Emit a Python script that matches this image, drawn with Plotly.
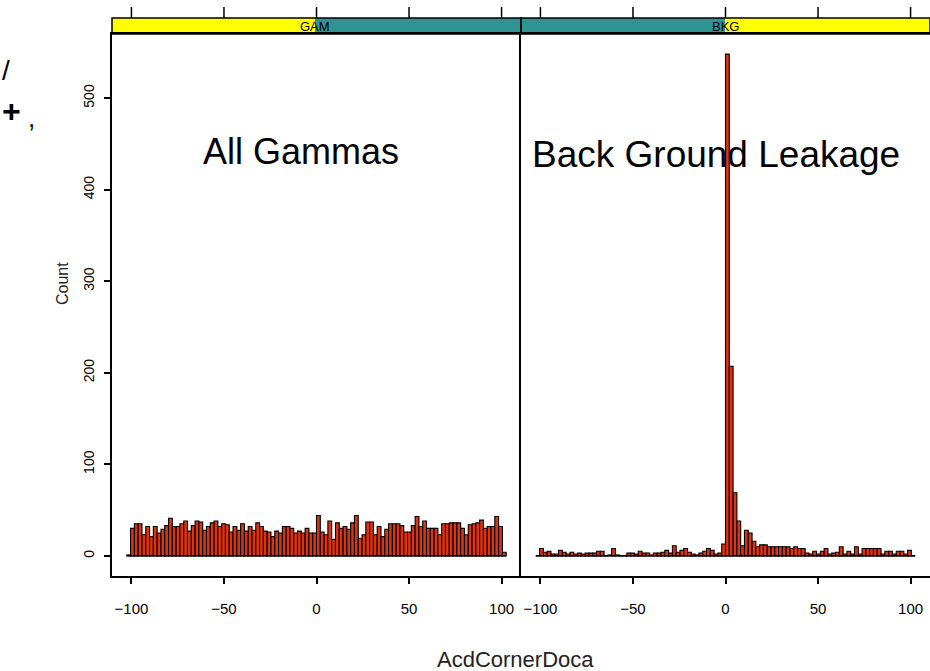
import numpy as np
import plotly.graph_objects as go

# ---------------- data ----------------
bin_start = -102.5
bin_width = 2.05

gam_counts = [1, 30, 35, 35, 23, 32, 21, 32, 25, 29,
              33, 41, 32, 32, 35, 38, 27, 33, 38, 37,
              28, 32, 36, 38, 32, 35, 34, 26, 32, 28,
              35, 27, 32, 28, 36, 32, 27, 26, 21, 27,
              25, 32, 32, 30, 25, 27, 25, 30, 25, 25,
              44, 26, 23, 38, 18, 36, 30, 32, 29, 36,
              44, 19, 23, 37, 37, 23, 32, 21, 29, 35,
              35, 35, 33, 26, 26, 33, 43, 32, 38, 30,
              30, 30, 23, 35, 35, 36, 36, 36, 30, 23,
              34, 35, 36, 39, 30, 32, 32, 43, 32, 4]

bkg_counts = [0, 8, 4, 5, 2, 2, 6, 4, 2, 4,
              2, 3, 2, 3, 3, 3, 5, 5, 0, 1,
              8, 1, 0, 0, 3, 3, 2, 5, 3, 3,
              1, 3, 3, 4, 6, 3, 11, 4, 6, 8,
              4, 2, 1, 3, 5, 8, 6, 2, 3, 13,
              548, 207, 69, 38, 11, 28, 25, 16, 10, 12,
              12, 10, 10, 10, 10, 10, 10, 8, 10, 8,
              8, 3, 2, 5, 2, 5, 8, 2, 3, 4,
              10, 2, 5, 2, 10, 2, 8, 8, 8, 8,
              8, 2, 5, 5, 2, 5, 5, 2, 6, 0]

x_ticks = [-100, -50, 0, 50, 100]
y_ticks = [0, 100, 200, 300, 400, 500]
panel_names = ["GAM", "BKG"]
panel_notes = ["All Gammas", "Back Ground Leakage"]
x_title = "AcdCornerDoca"
y_title = "Count"

# ---------------- layout helpers ----------------
W, H = 930, 671


def px(x):
    return x / W


def py(y):
    return 1 - y / H


n_bins = len(gam_counts)
centers = bin_start + bin_width * (np.arange(n_bins) + 0.5)
bin_end = bin_start + bin_width * n_bins

bar_fill = "#dd3311"
teal = "#2f9393"
yellow = "#ffff00"
FONT = "Liberation Sans, Arial, sans-serif"
LW = 1.5

fig = go.Figure()
fig.add_trace(go.Bar(x=centers, y=gam_counts, width=bin_width,
                     marker=dict(color=bar_fill, line=dict(color="black", width=1.1)),
                     xaxis="x", yaxis="y", showlegend=False))
fig.add_trace(go.Bar(x=centers, y=bkg_counts, width=bin_width,
                     marker=dict(color=bar_fill, line=dict(color="black", width=1.1)),
                     xaxis="x2", yaxis="y2", showlegend=False))

xr = [-110.5, 110.5]
yr = [-22, 570]
ydom = [py(576), py(34)]
left_dom = [px(112), px(521)]
right_dom = [px(521), 1.0]

common_x = dict(range=xr, tickvals=x_ticks, ticks="outside", ticklen=6, tickwidth=1.5,
                tickcolor="black", showline=True, linecolor="black", linewidth=LW,
                mirror=True, showgrid=False, zeroline=False,
                tickfont=dict(family=FONT, size=15, color="black"),
                ticklabelstandoff=12, automargin=False, fixedrange=True)

fig.update_layout(
    width=W, height=H,
    margin=dict(l=0, r=0, t=0, b=0, autoexpand=False),
    paper_bgcolor="white", plot_bgcolor="white",
    xaxis=dict(domain=left_dom, anchor="y", **common_x),
    xaxis2=dict(domain=right_dom, anchor="y2", **common_x),
    yaxis=dict(domain=ydom, anchor="x", range=yr, tickvals=y_ticks, tickangle=-90,
               ticks="outside", ticklen=6, tickwidth=1.5, tickcolor="black",
               showline=True, linecolor="black", linewidth=LW, mirror=False,
               showgrid=False, zeroline=False, ticklabelstandoff=5,
               tickfont=dict(family=FONT, size=14, color="black"), automargin=False),
    yaxis2=dict(domain=ydom, anchor="x2", range=yr, showticklabels=False, ticks="",
                showline=True, linecolor="black", linewidth=LW, mirror=True,
                showgrid=False, zeroline=False, automargin=False),
)

# strips
strip_y0, strip_y1 = py(34), py(18)
shapes = []
strip_parts = [
    (112, 315, yellow), (315, 521, teal),
    (521, 725, teal), (725, 930, yellow),
]
for x0, x1, c in strip_parts:
    shapes.append(dict(type="rect", xref="paper", yref="paper", x0=px(x0), x1=px(x1),
                       y0=strip_y0, y1=strip_y1, fillcolor=c, line=dict(width=0), layer="below"))
for x0, x1 in [(112, 521), (521, 930)]:
    shapes.append(dict(type="rect", xref="paper", yref="paper", x0=px(x0), x1=px(x1),
                       y0=strip_y0, y1=strip_y1, fillcolor="rgba(0,0,0,0)",
                       line=dict(color="black", width=LW)))
# top ticks above the strips
for axref in ["x", "x2"]:
    for t in x_ticks:
        shapes.append(dict(type="line", xref=axref, yref="paper", x0=t, x1=t,
                           y0=py(18), y1=py(7), line=dict(color="black", width=1.5)))
# histogram baseline (outline of empty bins)
for axref, ayref in [("x", "y"), ("x2", "y2")]:
    shapes.append(dict(type="line", xref=axref, yref=ayref, x0=bin_start, x1=bin_end,
                       y0=0, y1=0, line=dict(color="black", width=1.5)))
fig.update_layout(shapes=shapes)

annotations = []
for name, cx in zip(panel_names, [315, 725]):
    annotations.append(dict(text=name, x=px(cx), y=py(26), xref="paper", yref="paper",
                            showarrow=False, xanchor="center", yanchor="middle",
                            font=dict(family=FONT, size=13, color="black")))
for note, cx, cy, fs in zip(panel_notes, [301, 716], [151, 154], [36, 37]):
    annotations.append(dict(text=note, x=px(cx), y=py(cy), xref="paper", yref="paper",
                            showarrow=False, xanchor="center", yanchor="middle",
                            font=dict(family=FONT, size=fs, color="black")))
annotations.append(dict(text=x_title, x=px(515), y=py(659), xref="paper", yref="paper",
                        showarrow=False, xanchor="center", yanchor="middle",
                        font=dict(family=FONT, size=22, color="#222222")))
annotations.append(dict(text=y_title, x=px(62), y=py(284), xref="paper", yref="paper",
                        showarrow=False, xanchor="center", yanchor="middle", textangle=-90,
                        font=dict(family=FONT, size=16, color="#222222")))
# slide text fragments at the left edge
annotations.append(dict(text="/", x=0, y=py(71), xref="paper", yref="paper",
                        showarrow=False, xanchor="left", yanchor="middle",
                        font=dict(family=FONT, size=28, color="black")))
annotations.append(dict(text="<b>+</b>", x=0, y=py(111), xref="paper", yref="paper",
                        showarrow=False, xanchor="left", yanchor="middle",
                        font=dict(family=FONT, size=32, color="black")))
annotations.append(dict(text=",", x=px(31), y=py(118), xref="paper", yref="paper",
                        showarrow=False, xanchor="center", yanchor="middle",
                        font=dict(family=FONT, size=26, color="black")))
fig.update_layout(annotations=annotations)

fig.write_html("out.html")
